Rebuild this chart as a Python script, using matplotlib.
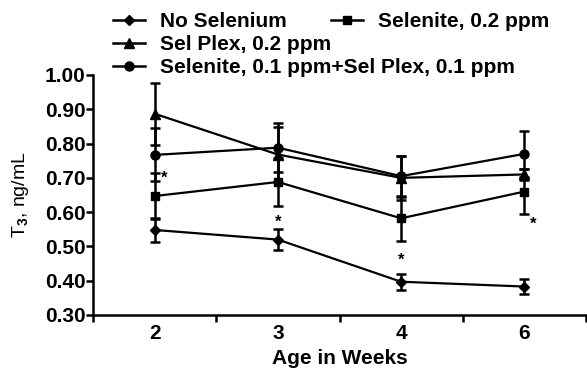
import matplotlib
matplotlib.use("Agg")
import matplotlib.pyplot as plt
import numpy as np
from matplotlib.lines import Line2D

plt.rcParams['font.family'] = ['Liberation Sans', 'DejaVu Sans']
plt.rcParams['font.weight'] = 'bold'
plt.rcParams['mathtext.fontset'] = 'custom'
plt.rcParams['mathtext.rm'] = 'Liberation Sans'
plt.rcParams['mathtext.default'] = 'rm'

weeks = ['2', '3', '4', '6']
no_selenium = [0.548, 0.520, 0.397, 0.383]
no_selenium_err = [0.035, 0.030, 0.024, 0.022]
selenite_02 = [0.647, 0.688, 0.582, 0.660]
selenite_02_err = [0.067, 0.070, 0.066, 0.065]
sel_plex_02 = [0.887, 0.768, 0.700, 0.710]
sel_plex_02_err = [0.090, 0.080, 0.065, 0.015]
combo_01 = [0.767, 0.788, 0.705, 0.770]
combo_01_err = [0.077, 0.072, 0.060, 0.068]

star_x = [0.08, 1.0, 2.0, 3.07]
star_y = [0.70, 0.57, 0.46, 0.565]

series = [
    ('No Selenium', no_selenium, no_selenium_err, 'D', 5.5),
    ('Selenite, 0.2 ppm', selenite_02, selenite_02_err, 's', 6),
    ('Sel Plex, 0.2 ppm', sel_plex_02, sel_plex_02_err, '^', 7),
    ('Selenite, 0.1 ppm+Sel Plex, 0.1 ppm', combo_01, combo_01_err, 'o', 6.5),
]

fig = plt.figure(figsize=(5.87, 3.69), dpi=100)
ax = fig.add_axes([93 / 587, 1 - 315 / 369, 493 / 587, 240 / 369])

x = np.arange(len(weeks))
handles = {}
for label, vals, err, marker, ms in series:
    ax.errorbar(x, vals, yerr=err, color='black', marker=marker, markersize=ms,
                linewidth=1.6, elinewidth=1.8, capsize=3.5, capthick=1.8, clip_on=False)
    handles[label] = Line2D([], [], color='black', marker=marker, markersize=ms, linewidth=1.8)

for sx, sy in zip(star_x, star_y):
    ax.text(sx, sy, '*', ha='center', va='center', fontsize=12, fontweight='bold')

ax.set_xlim(-0.5, 3.5)
ax.set_ylim(0.30, 1.00)
yt = np.arange(0.30, 1.001, 0.10)
ax.set_yticks(yt)
ax.set_yticklabels([f'{v:.2f}' for v in yt])
ax.set_xticks(x)
ax.set_xticklabels(weeks)
ax.set_xticks(np.arange(-0.5, 3.6, 1.0), minor=True)
ax.tick_params(axis='x', which='major', length=0, labelsize=15, pad=6.5)
ax.tick_params(axis='x', which='minor', length=5, width=1.8, direction='out')
ax.tick_params(axis='y', length=5, width=1.8, labelsize=15, pad=0.5)
for lbl in ax.get_xticklabels() + ax.get_yticklabels():
    lbl.set_fontweight('bold')

ax.spines['top'].set_visible(False)
ax.spines['right'].set_visible(False)
ax.spines['left'].set_linewidth(1.8)
ax.spines['bottom'].set_linewidth(1.8)

ax.set_xlabel('Age in Weeks', fontsize=15, fontweight='bold', labelpad=4)
ax.set_ylabel('T$_3$, ng/mL', fontsize=14, fontweight='normal', labelpad=10)

legend_props = {'weight': 'bold', 'size': 15}
left_labels = ['No Selenium', 'Sel Plex, 0.2 ppm', 'Selenite, 0.1 ppm+Sel Plex, 0.1 ppm']
fig.legend([handles[l] for l in left_labels], left_labels, loc='upper left',
           bbox_to_anchor=(113 / 587, 1 - 12 / 369), frameon=False,
           handlelength=1.55, handletextpad=0.7, labelspacing=0.2, borderaxespad=0,
           borderpad=0, prop=legend_props)
fig.legend([handles['Selenite, 0.2 ppm']], ['Selenite, 0.2 ppm'], loc='upper left',
           bbox_to_anchor=(331 / 587, 1 - 12 / 369), frameon=False,
           handlelength=1.55, handletextpad=0.7, borderaxespad=0, borderpad=0,
           prop=legend_props)

fig.savefig('out.png', dpi=100)
